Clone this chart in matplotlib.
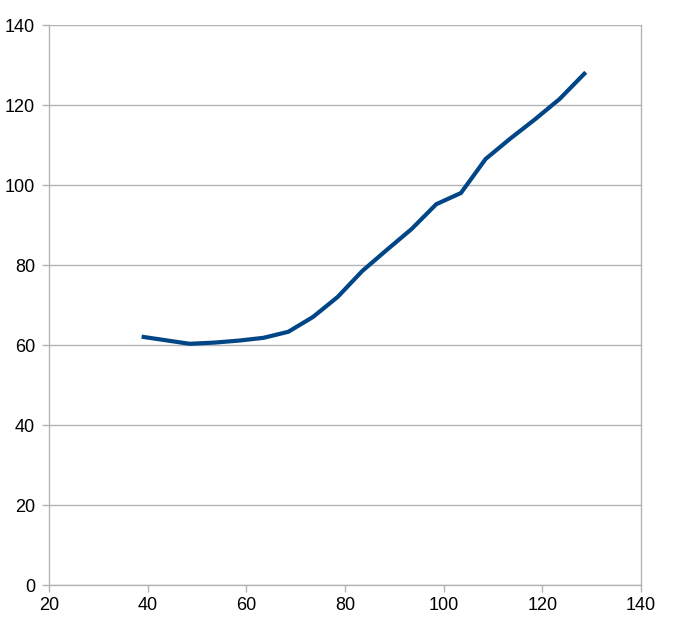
import matplotlib.pyplot as plt

x_values = [39.2, 48.5, 53.5, 58.5, 63.5, 68.5, 73.5, 78.5, 83.5, 88.5, 93.5, 98.5, 103.5, 108.5, 113.5, 118.5, 123.5, 128.5]
y_values = [62.0, 60.3, 60.6, 61.1, 61.8, 63.3, 67.0, 72.0, 78.5, 83.8, 89.0, 95.2, 98.0, 106.5, 111.6, 116.4, 121.5, 127.8]

x_ticks = [20, 40, 60, 80, 100, 120, 140]
y_ticks = [0, 20, 40, 60, 80, 100, 120, 140]

grid_color = "#b3b3b3"

fig = plt.figure(figsize=(6.79, 6.28), dpi=100)
ax = fig.add_axes([49 / 679, 43 / 628, 592 / 679, 560 / 628])

ax.plot(x_values, y_values, color="#004586", linewidth=3, solid_joinstyle="miter", zorder=3)

ax.set_xlim(20, 140)
ax.set_ylim(0, 140)
ax.set_xticks(x_ticks)
ax.set_yticks(y_ticks)

ax.yaxis.grid(True, color=grid_color, linewidth=1)
ax.set_axisbelow(True)

for side in ["left", "right", "bottom", "top"]:
    ax.spines[side].set_color(grid_color)
    ax.spines[side].set_linewidth(1)
ax.spines["top"].set_visible(False)

ax.tick_params(axis="both", direction="out", length=5, width=1, color=grid_color,
               labelsize=13, labelcolor="black")
ax.tick_params(axis="y", pad=5)
ax.tick_params(axis="x", pad=4)
for lbl in ax.get_xticklabels() + ax.get_yticklabels():
    lbl.set_fontfamily("Liberation Sans")

fig.savefig("out.png", dpi=100)
